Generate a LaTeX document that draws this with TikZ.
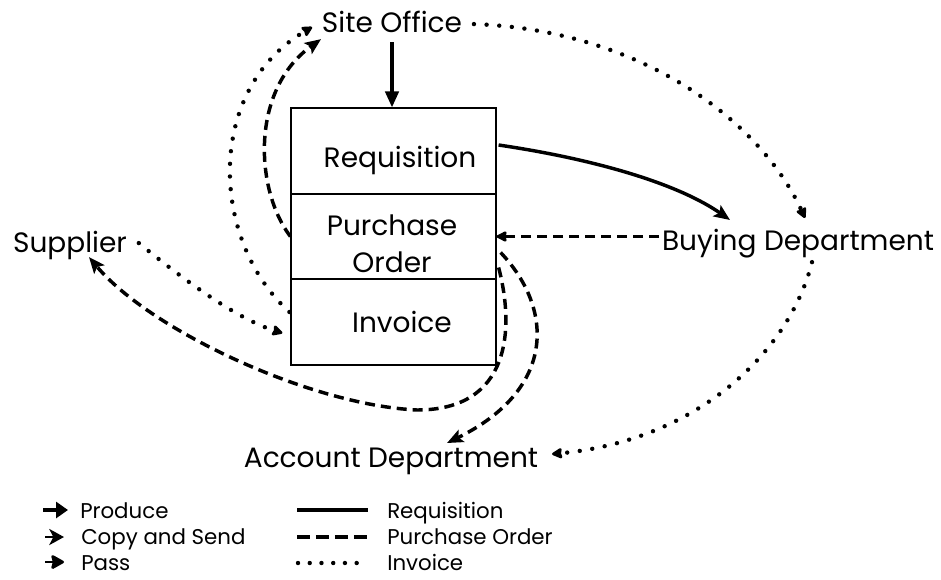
\documentclass[tikz,border=0pt]{standalone}
\usepackage{fontspec}
\setmainfont{Poppins}
\newfontfamily\legendfont{Poppins}
\usetikzlibrary{arrows.meta,calc}
\begin{document}
\begin{tikzpicture}[x=0.75pt,y=-0.75pt,
  lbl/.style={font=\fontsize{21}{25}\selectfont, inner sep=2pt,
    text height=15.8pt, text depth=5.4pt, anchor=base},
  celltext/.style={lbl},
  legtext/.style={font=\legendfont\fontsize{16}{19}\selectfont, anchor=base west, inner sep=0pt},
  cell/.style={draw, line width=0.9pt, minimum width=153.75pt, inner sep=0pt},
  reqline/.style={line width=2.6pt},
  poline/.style={line width=2.6pt, dash pattern=on 7.5pt off 4.5pt},
  invline/.style={line width=3.3pt, line cap=round, dash pattern=on 0pt off 9.5pt},
  produce/.style={-{Triangle[length=12pt,width=10pt]}},
  copysend/.style={-{Stealth[length=12pt,width=10pt,inset=2.5pt]}},
  pass/.style={-{Stealth[length=9pt,width=9pt,inset=1pt,round]}},
]
\useasboundingbox (0,0) rectangle (941,579);

% the form with its three sections
\node[cell, minimum height=64.5pt]  (req) at (393.5,151)   {};
\node[cell, minimum height=63.75pt] (po)  at (393.5,236.5) {};
\node[cell, minimum height=64.5pt]  (inv) at (393.5,322)   {};
\node[celltext] (reqtxt) at (400,167) {Requisition};
\node[celltext] (potxt1) at (392,235) {Purchase};
\node[celltext] (potxt2) at (392,272) {Order};
\node[celltext] (invtxt) at (402,332) {Invoice};

% parties
\node[lbl] (site)     at (392,32)  {Site Office};
\node[lbl] (supplier) at (70,252)  {Supplier};
\node[lbl] (buy)      at (798,250) {Buying Department};
\node[lbl] (acct)     at (391,467) {Account Department};

% requisition flow
\draw[reqline, produce] (site.south) -- (site.south |- req.north);
\draw[reqline, copysend] ($(req.east)+(2,-6)$)
  .. controls (600,160) and (680,185) .. ($(buy.north)+(-68,-6)$);

% purchase order flow
\draw[poline, copysend] (po.west)
  .. controls (255,190) and (250,90) .. ($(site.south west)+(2,-3)$);
\draw[poline, pass] (buy.west |- po.east) -- (po.east);
\draw[poline, copysend] ($(po.east)+(2,31)$)
  .. controls (515,330) and (510,410) .. (417,410)
  .. controls (310,405) and (150,330) .. ($(supplier.south)+(19,-5)$);
\draw[poline, copysend] ($(po.east)+(4,16)$)
  .. controls (555,310) and (555,390) .. ($(acct.north)+(56,0)$);

% invoice flow
\draw[invline, pass] ($(inv.west)+(-1,-10)$)
  .. controls (210,240) and (205,90) .. ($(site.west)+(-7,2)$);
\draw[invline, pass] ($(site.east)+(9,-1)$)
  .. controls (640,30) and (760,120) .. ($(buy.north)+(7,-8)$);
\draw[invline, pass] ($(buy.south)+(14,2)$)
  .. controls (790,350) and (700,440) .. ($(acct.east)+(11,-6)$);
\draw[invline, pass] ($(supplier.east)+(9,-2)$)
  .. controls (190,285) and (240,320) .. ($(inv.west)+(-8,11)$);

% legend
\node[legtext] (lgproduce) at (80,518)  {Produce};
\node[legtext] (lgcopy)    at (81,544)  {Copy and Send};
\node[legtext] (lgpass)    at (81,570)  {Pass};
\node[legtext] (lgreq)     at (387,518) {Requisition};
\node[legtext] (lgpo)      at (387,544) {Purchase Order};
\node[legtext] (lginv)     at (387,570) {Invoice};

\draw[line width=3pt, -{Triangle[length=9pt,width=12pt]}]
  ($(lgproduce.base west)+(-37,-8)$) -- ($(lgproduce.base west)+(-12,-8)$);
\draw[line width=2pt, -{Stealth[length=11pt,width=12pt,inset=3pt]}]
  ($(lgcopy.base west)+(-36,-7)$) -- ($(lgcopy.base west)+(-17,-7)$);
\draw[line width=2pt, -{Stealth[length=11pt,width=12pt,inset=1.5pt,round]}]
  ($(lgpass.base west)+(-36,-8)$) -- ($(lgpass.base west)+(-17,-8)$);

\draw[reqline] ($(lgreq.base west)+(-90,-8)$) -- ($(lgreq.base west)+(-19,-8)$);
\draw[line width=2.8pt, dash pattern=on 10pt off 4.2pt]
  ($(lgpo.base west)+(-90,-7)$) -- ($(lgpo.base west)+(-19,-7)$);
\draw[invline, dash pattern=on 0pt off 8.8pt]
  ($(lginv.base west)+(-89,-7)$) -- ($(lginv.base west)+(-19,-7)$);
\end{tikzpicture}
\end{document}
